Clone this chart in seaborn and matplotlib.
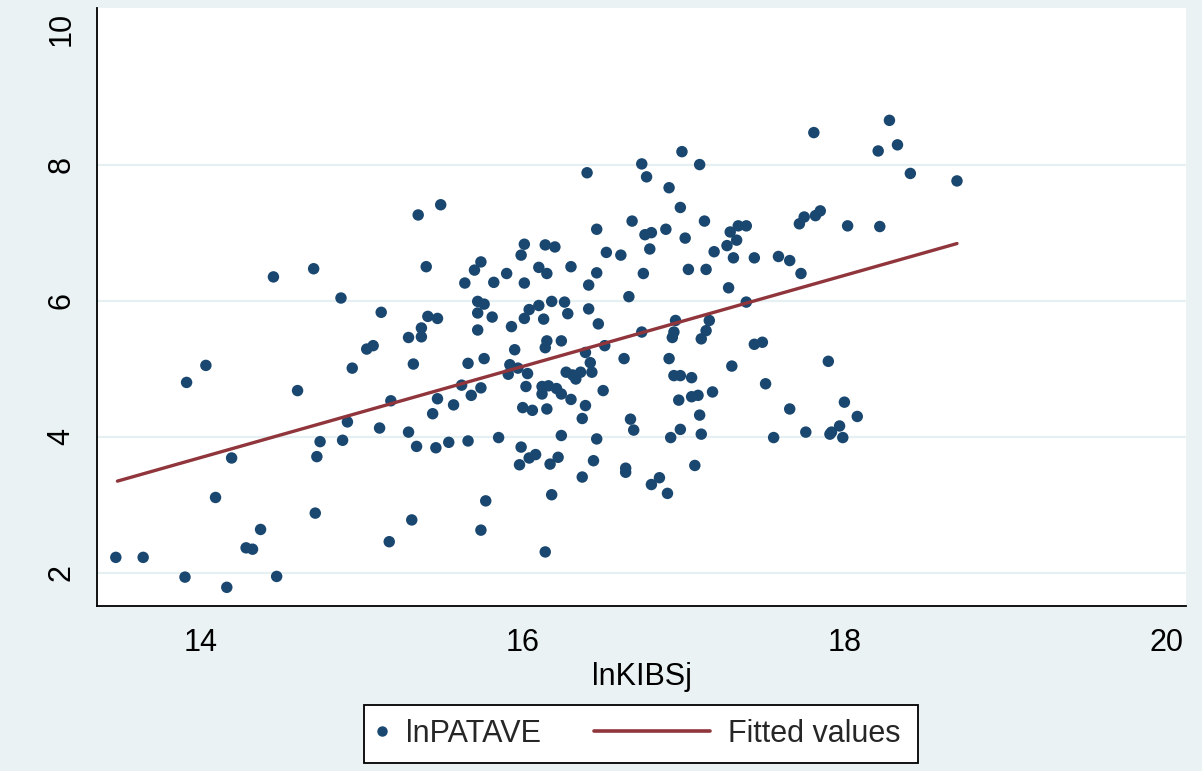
import numpy as np
import pandas as pd
import matplotlib
matplotlib.use("Agg")
import matplotlib.pyplot as plt
import seaborn as sns
from matplotlib.lines import Line2D
from matplotlib.patches import Rectangle

# ---- data ----
ln_kibsj = [
    14.45, 14.70, 14.87, 15.12, 15.07, 15.03,
    13.91, 14.03, 14.60, 14.94, 15.18, 14.91, 15.11, 14.74, 14.88, 14.72, 14.19, 14.09, 14.71, 14.37,
    14.28, 14.32, 15.17, 13.47, 13.64, 13.90, 14.16, 14.47,
    15.35, 15.49, 15.40, 15.64, 15.70, 15.74, 15.82, 15.90, 16.01, 15.99, 16.01, 16.14, 16.20, 16.10,
    16.15, 16.30, 16.40, 16.46, 16.52, 16.61, 16.68, 16.74, 16.77, 16.76, 16.80, 16.79, 16.89, 16.91,
    16.75, 16.46, 16.41, 16.66, 15.72, 15.76, 15.72, 15.81, 15.41, 15.47, 15.37, 15.37, 15.29, 15.72,
    15.93, 16.04, 16.01, 16.10, 16.13, 16.18, 16.26, 16.28, 16.41, 16.47, 16.24, 16.15, 15.95, 16.14,
    16.51, 16.74,
    16.99, 17.10, 16.98, 17.13, 17.01, 17.29, 17.34, 17.39, 17.33, 17.27, 17.19, 17.31, 17.44, 17.59,
    17.66, 17.73, 17.03, 17.14, 17.28, 17.39, 16.95, 17.16, 17.14, 16.94, 16.93, 17.11, 17.44, 17.49,
    17.81, 18.28, 18.21, 18.33, 18.41, 18.70, 17.72, 17.75, 17.82, 17.85, 18.02, 18.22,
    16.39, 16.63, 16.91, 15.32, 15.66, 15.76, 15.92, 15.97, 15.91, 16.03, 16.42, 16.27, 16.31, 16.36,
    16.33, 16.43, 16.50, 15.62, 15.47, 15.74, 15.68, 15.57, 15.44, 16.02, 16.12, 16.16, 16.21, 16.24,
    16.12, 16.30, 16.39, 16.00, 16.06, 16.15, 16.37, 16.67, 16.69, 15.29, 15.34, 15.46, 15.54, 15.66,
    15.85, 15.99, 15.98, 16.04, 16.08, 16.17, 16.22, 16.24, 16.46, 16.44, 16.37, 16.64, 16.64, 16.80,
    16.85, 16.90, 16.18, 15.77, 15.31, 15.74, 16.14, 16.92,
    16.94, 16.98, 17.05, 17.30, 17.51, 17.90, 16.97, 17.05, 17.09, 17.18, 17.10, 17.66, 18.00, 18.08,
    16.98, 17.11, 17.56, 17.76, 17.97, 17.91, 17.92, 17.99, 17.07,
]
ln_patave = [
    6.35, 6.47, 6.04, 5.83, 5.34, 5.29,
    4.80, 5.05, 4.68, 5.01, 4.53, 4.22, 4.13, 3.93, 3.95, 3.71, 3.69, 3.11, 2.88, 2.64,
    2.37, 2.35, 2.46, 2.23, 2.23, 1.94, 1.79, 1.95,
    7.26, 7.41, 6.50, 6.26, 6.45, 6.57, 6.27, 6.40, 6.26, 6.67, 6.83, 6.82, 6.79, 6.49,
    6.40, 6.50, 7.88, 7.05, 6.71, 6.67, 7.17, 8.01, 7.82, 6.97, 7.00, 6.76, 7.05, 7.66,
    6.40, 6.41, 6.23, 6.06, 5.99, 5.95, 5.82, 5.76, 5.77, 5.74, 5.60, 5.47, 5.46, 5.57,
    5.62, 5.87, 5.74, 5.93, 5.73, 5.99, 5.98, 5.81, 5.88, 5.66, 5.41, 5.41, 5.28, 5.31,
    5.34, 5.54,
    8.19, 8.00, 7.37, 7.17, 6.92, 7.01, 7.10, 7.10, 6.89, 6.81, 6.72, 6.63, 6.63, 6.65,
    6.59, 6.40, 6.46, 6.46, 6.19, 5.98, 5.71, 5.71, 5.56, 5.54, 5.46, 5.44, 5.36, 5.39,
    8.47, 8.65, 8.20, 8.29, 7.87, 7.76, 7.13, 7.23, 7.25, 7.32, 7.10, 7.09,
    5.24, 5.15, 5.15, 5.07, 5.08, 5.15, 5.06, 5.01, 4.92, 4.93, 5.09, 4.95, 4.91, 4.95,
    4.85, 4.95, 4.68, 4.76, 4.56, 4.72, 4.61, 4.47, 4.34, 4.74, 4.74, 4.75, 4.71, 4.63,
    4.63, 4.55, 4.46, 4.43, 4.39, 4.41, 4.27, 4.26, 4.10, 4.07, 3.86, 3.84, 3.92, 3.94,
    3.99, 3.85, 3.59, 3.69, 3.74, 3.60, 3.70, 4.02, 3.97, 3.65, 3.41, 3.54, 3.48, 3.30,
    3.40, 3.17, 3.15, 3.06, 2.78, 2.63, 2.31, 3.99,
    4.90, 4.90, 4.87, 5.04, 4.78, 5.11, 4.54, 4.59, 4.61, 4.66, 4.32, 4.41, 4.51, 4.30,
    4.11, 4.04, 3.99, 4.07, 4.16, 4.04, 4.07, 3.99, 3.58,
]
fit_x = [13.48, 18.70]
fit_y = [3.35, 6.84]
x_ticks = [14, 16, 18, 20]
y_ticks = [2, 4, 6, 8, 10]
x_label = "lnKIBSj"
series_label = "lnPATAVE"
fit_label = "Fitted values"

# ---- style ----
sns.set_theme(style="white")
plt.rcParams["font.family"] = ["Liberation Sans", "DejaVu Sans"]

BG = "#EAF2F3"
NAVY = "#1A476F"
MAROON = "#90353B"
GRID = "#E6EFF1"
W, H = 1202, 771

fig = plt.figure(figsize=(W / 100, H / 100), dpi=100, facecolor=BG)
ax = fig.add_axes([0.0807, 0.2144, 0.9060, 0.7752])
ax.set_facecolor("white")

scatter_df = pd.DataFrame({"x": ln_kibsj, "y": ln_patave})
fit_df = pd.DataFrame({"x": fit_x, "y": fit_y})

sns.scatterplot(data=scatter_df, x="x", y="y", ax=ax, color=NAVY, s=68,
                edgecolor="none", linewidth=0, legend=False, zorder=3)
sns.lineplot(data=fit_df, x="x", y="y", ax=ax, color=MAROON, linewidth=2.4,
             legend=False, zorder=4)

ax.set_xlim(13.353, 20.124)
ax.set_ylim(1.52, 10.30)
ax.set_xticks(x_ticks)
ax.set_yticks(y_ticks)
ax.set_xticklabels([str(t) for t in x_ticks], fontsize=22)
ax.set_yticklabels([str(t) for t in y_ticks], fontsize=22, rotation=90, va="center")

for yv in [2, 4, 6, 8]:
    ax.axhline(yv, color=GRID, linewidth=1.6, zorder=1)

for s in ["top", "right"]:
    ax.spines[s].set_visible(False)
for s in ["left", "bottom"]:
    ax.spines[s].set_color("black")
    ax.spines[s].set_linewidth(1.3)

ax.tick_params(axis="both", direction="out", length=8, width=1, color="black",
               labelcolor="black")
ax.tick_params(axis="x", pad=8)
ax.tick_params(axis="y", pad=7)

ax.set_xlabel(x_label, fontsize=22, color="black", labelpad=3)
ax.set_ylabel("")

# ---- legend: framed box with two entries ----
box_l, box_r, box_t, box_b = 364, 918, 705, 763
fig.add_artist(Rectangle((box_l / W, 1 - box_b / H), (box_r - box_l) / W,
                         (box_b - box_t) / H, transform=fig.transFigure,
                         facecolor="white", edgecolor="black", linewidth=1.3,
                         zorder=1))
yc = 1 - 734 / H
leg1 = fig.legend([Line2D([], [], linestyle="none", marker="o", markersize=6.5, color=NAVY)],
                  [series_label], loc="center left", bbox_to_anchor=(373 / W, yc),
                  frameon=False, fontsize=22, handlelength=0.6, handletextpad=0.48,
                  borderpad=0, borderaxespad=0)
leg2 = fig.legend([Line2D([], [], color=MAROON, linewidth=2.6)],
                  [fit_label], loc="center left", bbox_to_anchor=(594 / W, yc),
                  frameon=False, fontsize=22, handlelength=3.79, handletextpad=0.59,
                  borderpad=0, borderaxespad=0)
leg1.set_zorder(6)
leg2.set_zorder(6)

fig.savefig("out.png", dpi=100, facecolor=BG)
